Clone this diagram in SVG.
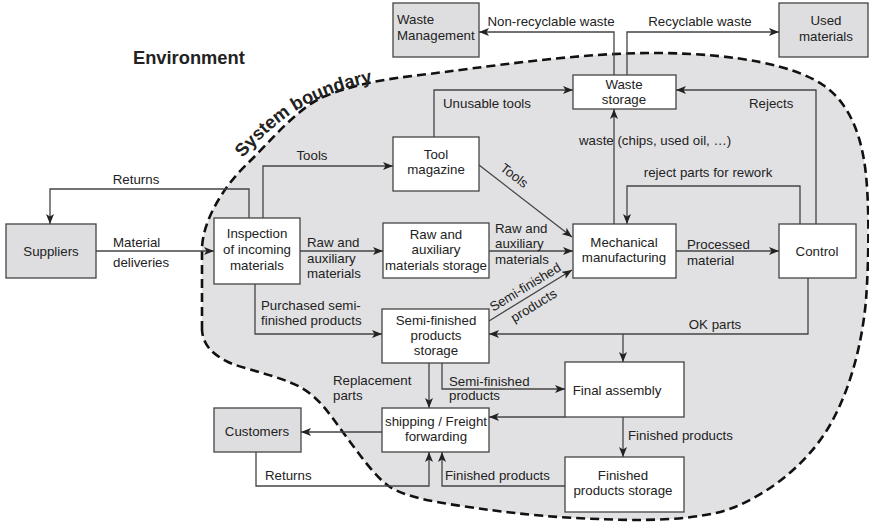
<svg xmlns="http://www.w3.org/2000/svg" width="869" height="525" viewBox="0 0 869 525">
  <defs>
    <marker id="arr" viewBox="0 0 10 8" markerWidth="10" markerHeight="8" refX="10" refY="4" orient="auto" markerUnits="userSpaceOnUse">
      <path d="M0,0 L10,4 L0,8 L2.5,4 Z" fill="#222"/>
    </marker>
    <path id="sbPath" d="M 243,158 C 261,137 285,115 310,103 C 330,93 355,85 382,80"/>
  </defs>
  <style>
    .t { font-family: "Liberation Sans", Arial, Helvetica, sans-serif; font-size: 13.3px; fill: #222; }
    .c { text-anchor: middle; }
    .b { font-weight: bold; font-size: 18.3px; fill: #222; font-family: "Liberation Sans", Arial, Helvetica, sans-serif; }
    .box { fill: #fff; stroke: #444; stroke-width: 1.3; }
    .ext { fill: #dedee0; stroke: #444; stroke-width: 1.3; }
    .ln { fill: none; stroke: #444; stroke-width: 1.3; }
    .ar { marker-end: url(#arr); }
  </style>
  <rect width="869" height="525" fill="#fff"/>

  <!-- system boundary -->
  <g id="boundary">
    <path d="M 202,330 L 202,250 C 202,220 225,185 247,164 C 270,142 295,110 323,97 C 355,84 385,79 420,75 C 480,68 580,52 660,53 C 740,54 795,66 823,85 C 845,100 858,125 864,160 C 870,195 869,260 866,300 C 862,345 850,390 830,425 C 810,460 775,490 735,507 C 701,521 640,521 600,519 C 560,518 520,514 490,510 C 455,505 410,500 390,487 C 375,477 360,455 345,435 C 330,415 320,398 300,387 C 280,376 240,368 228,362 C 212,354 203,345 202,330 Z" fill="#e1e1e3" stroke="#111" stroke-width="2.6" stroke-dasharray="9,5"/>
    <text class="b"><textPath href="#sbPath">System boundary</textPath></text>
    <text class="b" x="133" y="64">Environment</text>
  </g>

  <!-- connectors -->
  <g id="connectors">
    <polyline class="ln ar" points="614,75 614,32 479,32"/>
    <polyline class="ln ar" points="627,75 627,32 779,32"/>
    <polyline class="ln ar" points="434,137 434,90 573,90"/>
    <polyline class="ln ar" points="816,224 816,90 676,90"/>
    <line class="ln ar" x1="614" y1="224" x2="614" y2="109"/>
    <polyline class="ln ar" points="800,224 800,186 627,186 627,224"/>
    <line class="ln ar" x1="676" y1="251" x2="779" y2="251"/>
    <line class="ln ar" x1="489" y1="251" x2="573" y2="251"/>
    <line class="ln ar" x1="479" y1="165" x2="572" y2="237"/>
    <line class="ln ar" x1="489" y1="321" x2="572" y2="270"/>
    <line class="ln ar" x1="96" y1="251" x2="214" y2="251"/>
    <polyline class="ln ar" points="249,218 249,189 50,189 50,224"/>
    <polyline class="ln ar" points="263,218 263,166 393,166"/>
    <line class="ln ar" x1="300" y1="251" x2="383" y2="251"/>
    <polyline class="ln ar" points="255,284 255,334 382,334"/>
    <polyline class="ln ar" points="808,278 808,334 489,334"/>
    <line class="ln ar" x1="623" y1="334" x2="623" y2="362"/>
    <line class="ln ar" x1="623" y1="417" x2="623" y2="457"/>
    <polyline class="ln ar" points="442,363 442,389 565,389"/>
    <line class="ln ar" x1="429" y1="363" x2="429" y2="408"/>
    <line class="ln ar" x1="565" y1="417" x2="489" y2="417"/>
    <line class="ln ar" x1="382" y1="432" x2="301" y2="432"/>
    <polyline class="ln ar" points="256,452 256,486 429,486 429,452"/>
    <polyline class="ln ar" points="565,486 442,486 442,452"/>
  </g>

  <!-- connector labels -->
  <g id="labels" class="t">
    <text class="c" x="551" y="26">Non-recyclable waste</text>
    <text class="c" x="700" y="26">Recyclable waste</text>
    <text x="443" y="108">Unusable tools</text>
    <text x="749" y="108">Rejects</text>
    <text x="579" y="145">waste (chips, used oil, …)</text>
    <text class="c" x="708" y="177">reject parts for rework</text>
    <text x="687" y="249">Processed</text>
    <text x="687" y="265">material</text>
    <text x="495" y="233">Raw and</text>
    <text x="495" y="248">auxiliary</text>
    <text x="495" y="264">materials</text>
    <text x="307" y="247">Raw and</text>
    <text x="307" y="263">auxiliary</text>
    <text x="307" y="278">materials</text>
    <text x="113" y="247">Material</text>
    <text x="113" y="267">deliveries</text>
    <text class="c" x="136" y="184">Returns</text>
    <text class="c" x="312" y="160">Tools</text>
    <text class="c" transform="translate(514,176) rotate(37.5)" y="4">Tools</text>
    <text class="c" transform="translate(525.5,287.5) rotate(-31.3)" y="4">Semi-finished</text>
    <text class="c" transform="translate(534,306) rotate(-31.3)" y="4">products</text>
    <text x="261" y="310">Purchased semi-</text>
    <text x="261" y="325">finished products</text>
    <text class="c" x="715" y="329">OK parts</text>
    <text x="449" y="386">Semi-finished</text>
    <text x="449" y="400">products</text>
    <text x="333" y="385">Replacement</text>
    <text x="333" y="400">parts</text>
    <text x="628" y="440">Finished products</text>
    <text x="265" y="480">Returns</text>
    <text x="445" y="480">Finished products</text>
  </g>

  <!-- nodes -->
  <g id="waste-management">
    <rect class="ext" x="393" y="3" width="86" height="54"/>
    <text class="t" x="397" y="24">Waste</text>
    <text class="t" x="397" y="40">Management</text>
  </g>
  <g id="used-materials">
    <rect class="ext" x="779" y="3" width="89" height="54"/>
    <text class="t c" x="826" y="25">Used</text>
    <text class="t c" x="826" y="41">materials</text>
  </g>
  <g id="waste-storage">
    <rect class="box" x="573" y="75" width="103" height="34"/>
    <text class="t c" x="624" y="89">Waste</text>
    <text class="t c" x="624" y="104">storage</text>
  </g>
  <g id="tool-magazine">
    <rect class="box" x="393" y="137" width="86" height="54"/>
    <text class="t c" x="436" y="159">Tool</text>
    <text class="t c" x="436" y="174">magazine</text>
  </g>
  <g id="suppliers">
    <rect class="ext" x="6" y="224" width="90" height="54"/>
    <text class="t c" x="51" y="256">Suppliers</text>
  </g>
  <g id="inspection">
    <rect class="box" x="214" y="218" width="86" height="66"/>
    <text class="t c" x="257" y="238">Inspection</text>
    <text class="t c" x="257" y="254">of incoming</text>
    <text class="t c" x="257" y="270">materials</text>
  </g>
  <g id="raw-storage">
    <rect class="box" x="383" y="223" width="106" height="55"/>
    <text class="t c" x="436" y="239">Raw and</text>
    <text class="t c" x="436" y="254">auxiliary</text>
    <text class="t c" x="436" y="270">materials storage</text>
  </g>
  <g id="mechanical-manufacturing">
    <rect class="box" x="573" y="224" width="103" height="54"/>
    <text class="t c" x="624" y="247">Mechanical</text>
    <text class="t c" x="624" y="262">manufacturing</text>
  </g>
  <g id="control">
    <rect class="box" x="779" y="224" width="77" height="54"/>
    <text class="t c" x="817" y="256">Control</text>
  </g>
  <g id="semi-finished-storage">
    <rect class="box" x="382" y="309" width="107" height="54"/>
    <text class="t c" x="436" y="325">Semi-finished</text>
    <text class="t c" x="436" y="340">products</text>
    <text class="t c" x="436" y="355">storage</text>
  </g>
  <g id="final-assembly">
    <rect class="box" x="565" y="362" width="119" height="55"/>
    <text class="t c" x="617" y="395">Final assembly</text>
  </g>
  <g id="shipping">
    <rect class="box" x="382" y="408" width="107" height="44"/>
    <text class="t c" x="436" y="426">shipping / Freight</text>
    <text class="t c" x="436" y="441">forwarding</text>
  </g>
  <g id="customers">
    <rect class="ext" x="214" y="408" width="87" height="44"/>
    <text class="t c" x="257" y="436">Customers</text>
  </g>
  <g id="finished-storage">
    <rect class="box" x="565" y="457" width="119" height="55"/>
    <text class="t c" x="623" y="480">Finished</text>
    <text class="t c" x="623" y="495">products storage</text>
  </g>
</svg>
